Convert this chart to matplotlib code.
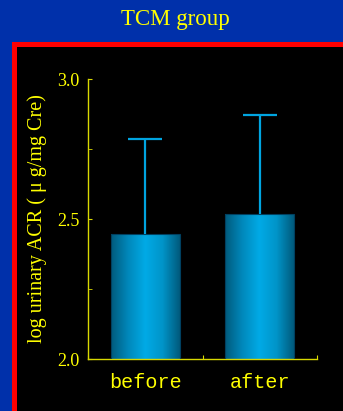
import matplotlib
matplotlib.use('Agg')
import matplotlib.pyplot as plt
import matplotlib.patches as mpatches
from matplotlib.colors import LinearSegmentedColormap
import numpy as np

groups = ["before", "after"]
means = [2.445, 2.517]
sd = [0.340, 0.354]

yellow = '#ffff00'
axis_yellow = '#d8d800'
bar_cmap = LinearSegmentedColormap.from_list(
    'cyl', ['#005a7c', '#0088bb', '#00aae6', '#0094c8', '#005a7c'])

fig = plt.figure(figsize=(3.43, 4.11), dpi=100)
fig.patch.set_facecolor('#0030aa')

# red frame with black panel, running off the right and bottom edges
fig.patches.append(mpatches.Rectangle((12 / 343, -0.1), 1.0, (411 - 42) / 411 + 0.1,
                                      transform=fig.transFigure, facecolor='#ff0000',
                                      edgecolor='none', zorder=-2))
fig.patches.append(mpatches.Rectangle((16.5 / 343, -0.1), 1.0, (411 - 46.5) / 411 + 0.1,
                                      transform=fig.transFigure, facecolor='black',
                                      edgecolor='none', zorder=-1))

fig.text(0.512, 0.953, "TCM group", color=yellow, ha='center', va='center',
         fontsize=16.5, family='Liberation Serif')

ax = fig.add_axes([88 / 343, 52 / 411, 229 / 343, 280 / 411])
ax.set_facecolor('none')

x = np.arange(len(groups))
bars = ax.bar(x, means, width=0.6, bottom=0, color='none',
              edgecolor='#004060', linewidth=0.8, zorder=3)

# cylinder-like shading inside each bar
grad = np.linspace(0, 1, 256).reshape(1, -1)
for b in bars:
    x0, w = b.get_x(), b.get_width()
    im = ax.imshow(grad, cmap=bar_cmap, aspect='auto', zorder=2,
                   extent=[x0, x0 + w, 2.0, b.get_height()])
    im.set_clip_path(b)

eb = ax.errorbar(x, means, yerr=[[0, 0], sd], fmt='none', ecolor='#00a4e0',
                 elinewidth=1.6, capsize=12, capthick=1.6, zorder=4)
# upper whisker only, no cap sitting on the bar top
eb[1][0].set_visible(False)

ax.set_xlim(-0.5, 1.5)
ax.set_ylim(2.0, 3.0)

for s in ['top', 'right']:
    ax.spines[s].set_visible(False)
for s in ['left', 'bottom']:
    ax.spines[s].set_color(axis_yellow)
    ax.spines[s].set_linewidth(1.0)

ax.set_yticks([2.0, 2.5, 3.0])
ax.set_yticklabels(["2.0", "2.5", "3.0"])
ax.set_yticks([2.25, 2.75], minor=True)
ax.tick_params(axis='y', which='both', direction='in', length=3, color=axis_yellow,
               labelcolor=yellow, labelsize=13, pad=6)
for t in ax.get_yticklabels():
    t.set_family('Liberation Serif')

ax.set_xticks([-0.5, 0.5, 1.5])
ax.set_xticklabels([])
ax.set_xticks(x, minor=True)
ax.set_xticklabels(groups, minor=True)
ax.tick_params(axis='x', which='major', direction='in', length=3, color=axis_yellow)
ax.tick_params(axis='x', which='minor', length=0, labelcolor=yellow,
               labelsize=14.5, pad=10)
for t in ax.get_xticklabels(minor=True):
    t.set_family('Liberation Mono')

ax.set_ylabel("log urinary ACR ( \u03bc g/mg Cre)", color=yellow, fontsize=14.5,
              family='Liberation Serif')
ax.yaxis.set_label_coords(-0.179, 0.5)

fig.savefig('out.png', dpi=100, facecolor=fig.get_facecolor())
